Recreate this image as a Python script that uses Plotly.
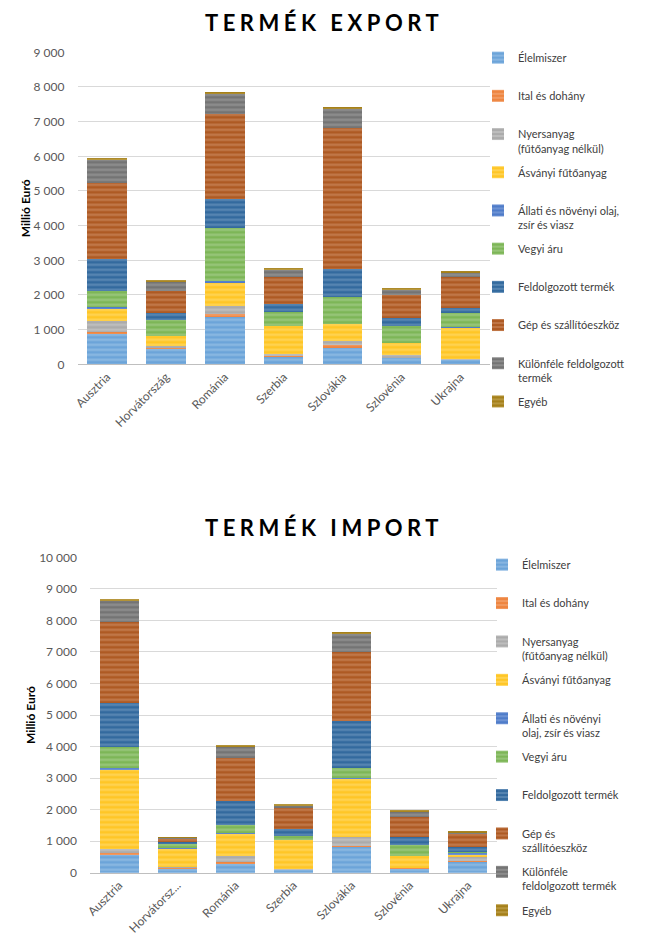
import plotly.graph_objects as go

# ---------------- data ----------------
export_countries = ["Ausztria", "Horvátország", "Románia", "Szerbia", "Szlovákia", "Szlovénia", "Ukrajna"]
import_countries = export_countries
import_ticktext = ["Ausztria", "Horvátorsz...", "Románia", "Szerbia", "Szlovákia", "Szlovénia", "Ukrajna"]

series_names = ["Élelmiszer", "Ital és dohány", "Nyersanyag (fűtőanyag nélkül)", "Ásványi fűtőanyag",
                "Állati és növényi olaj, zsír és viasz", "Vegyi áru", "Feldolgozott termék",
                "Gép és szállítóeszköz", "Különféle feldolgozott termék", "Egyéb"]

export_legend = ["Élelmiszer", "Ital és dohány", "Nyersanyag<br>(fűtőanyag nélkül)", "Ásványi fűtőanyag",
                 "Állati és növényi olaj,<br>zsír és viasz", "Vegyi áru", "Feldolgozott termék",
                 "Gép és szállítóeszköz", "Különféle feldolgozott<br>termék", "Egyéb"]
import_legend = ["Élelmiszer", "Ital és dohány", "Nyersanyag<br>(fűtőanyag nélkül)", "Ásványi fűtőanyag",
                 "Állati és növényi<br>olaj, zsír és viasz", "Vegyi áru", "Feldolgozott termék",
                 "Gép és<br>szállítóeszköz", "Különféle<br>feldolgozott termék", "Egyéb"]

# values per series, order of countries (Millió Euró)
export_elelmiszer   = [860, 442, 1356, 221, 462, 173, 125]
export_ital         = [80, 20, 104, 15, 86, 10, 5]
export_nyersanyag   = [320, 70, 223, 62, 135, 87, 15]
export_asvanyi      = [355, 285, 682, 808, 471, 336, 913]
export_allati       = [30, 10, 30, 10, 20, 10, 20]
export_vegyi        = [470, 455, 1538, 394, 759, 490, 393]
export_feldolgozott = [935, 190, 827, 230, 807, 221, 164]
export_gep          = [2190, 645, 2452, 789, 4087, 673, 875]
export_kulonfele    = [655, 250, 586, 211, 529, 163, 115]
export_egyeb        = [30, 40, 29, 29, 29, 29, 29]

import_elelmiszer   = [560, 137, 275, 85, 825, 137, 359]
import_ital         = [53, 15, 63, 5, 20, 5, 10]
import_nyersanyag   = [127, 38, 201, 20, 297, 20, 138]
import_asvanyi      = [2537, 582, 708, 926, 1839, 367, 74]
import_allati       = [30, 10, 25, 10, 30, 10, 40]
import_vegyi        = [668, 127, 240, 117, 319, 328, 30]
import_feldolgozott = [1395, 74, 771, 222, 1480, 253, 152]
import_gep          = [2590, 85, 1343, 676, 2198, 635, 444]
import_kulonfele    = [666, 32, 370, 74, 561, 179, 32]
import_egyeb        = [42, 10, 42, 32, 42, 32, 21]

export_values = [export_elelmiszer, export_ital, export_nyersanyag, export_asvanyi, export_allati,
                 export_vegyi, export_feldolgozott, export_gep, export_kulonfele, export_egyeb]
import_values = [import_elelmiszer, import_ital, import_nyersanyag, import_asvanyi, import_allati,
                 import_vegyi, import_feldolgozott, import_gep, import_kulonfele, import_egyeb]

export_ticks = [0, 1000, 2000, 3000, 4000, 5000, 6000, 7000, 8000, 9000]
import_ticks = [0, 1000, 2000, 3000, 4000, 5000, 6000, 7000, 8000, 9000, 10000]

# ---------------- style ----------------
base_colors = ["#6CA4D9", "#EE8540", "#ABABAB", "#FFC626", "#4F7CC9",
               "#7DB657", "#336A9E", "#AE5A23", "#747474", "#A5801A"]
light_colors = ["#A9CBEB", "#F5B48A", "#D3D3D3", "#FFE080", "#93AEE0",
                "#B4D69E", "#7FA4C8", "#D69A74", "#A8A8A8", "#CDB46A"]

FONT = "Lato, 'Open Sans', sans-serif"
W, H = 656, 935

fig = go.Figure()

def add_series(values, legend_labels, xaxis, yaxis, legend, prefix, cats):
    for i, (vals, lab) in enumerate(zip(values, legend_labels)):
        if "<br>" not in lab:
            lab = lab + "<br>\u00a0"
        fig.add_trace(go.Bar(
            x=cats, y=vals, name=lab,
            xaxis=xaxis, yaxis=yaxis, legend=legend,
            legendgroup=f"{prefix}{i}",
            marker=dict(color=base_colors[i], line=dict(width=0),
                        pattern=dict(shape="-", fgcolor=light_colors[i], bgcolor=base_colors[i],
                                     size=5, solidity=0.45)),
            hovertemplate=series_names[i] + ": %{y}<extra>%{x}</extra>",
        ))

add_series(export_values, export_legend, "x", "y", "legend", "e", export_countries)
add_series(import_values, import_legend, "x2", "y2", "legend2", "i", import_countries)

def py(px):
    return 1 - px / H

grid = "#D9D9D9"
tickfont = dict(family=FONT, size=12, color="#595959")

axis_common = dict(showgrid=False, showline=True, linecolor="#BFBFBF", linewidth=1,
                   ticks="", tickangle=-45, tickfont=tickfont, fixedrange=True)
yaxis_common = dict(showgrid=True, gridcolor=grid, gridwidth=1, zeroline=False, showline=False,
                    tickfont=tickfont, tickformat=",d", ticklabelstandoff=12, fixedrange=True,
                    title=dict(text="<b>Millió Euró</b>", font=dict(family=FONT, size=12, color="#000000"),
                               standoff=0))

fig.update_layout(
    width=W, height=H,
    margin=dict(l=0, r=0, t=0, b=0, autoexpand=False),
    paper_bgcolor="white", plot_bgcolor="white",
    barmode="stack", bargap=0.33,
    separators=", ",
    font=dict(family=FONT, size=12, color="#404040"),
    xaxis=dict(domain=[77.5 / W, 490 / W], anchor="y", **axis_common),
    yaxis=dict(domain=[py(364.3), py(52.3)], range=[0, 9000], tickvals=export_ticks, anchor="x",
               **yaxis_common),
    xaxis2=dict(domain=[90 / W, 497 / W], anchor="y2", tickvals=import_countries, ticktext=import_ticktext,
                **axis_common),
    yaxis2=dict(domain=[py(872.7), py(557.3)], range=[0, 10000], tickvals=import_ticks, anchor="x2",
                **yaxis_common),
    legend=dict(x=478 / W, y=py(44), xanchor="left", yanchor="top", valign="top",
                font=dict(family=FONT, size=11, color="#404040"), tracegroupgap=6.6,
                bgcolor="rgba(0,0,0,0)", itemclick=False, itemdoubleclick=False),
    legend2=dict(x=482 / W, y=py(551), xanchor="left", yanchor="top", valign="top",
                 font=dict(family=FONT, size=11, color="#404040"), tracegroupgap=6.8,
                 bgcolor="rgba(0,0,0,0)", itemclick=False, itemdoubleclick=False),
    annotations=[
        dict(text="<b><span style='letter-spacing:4.5px'>TERMÉK EXPORT</span></b>", x=324 / W, y=py(22),
             xref="paper", yref="paper", showarrow=False, xanchor="center", yanchor="middle",
             font=dict(family=FONT, size=22, color="#000000", weight=900)),
        dict(text="<b><span style='letter-spacing:4.5px'>TERMÉK IMPORT</span></b>", x=324 / W, y=py(527),
             xref="paper", yref="paper", showarrow=False, xanchor="center", yanchor="middle",
             font=dict(family=FONT, size=22, color="#000000", weight=900)),
    ],
    showlegend=True,
)

fig.write_html("out.html", config={"displayModeBar": False},
               post_script="document.body.style.margin='0px';")
